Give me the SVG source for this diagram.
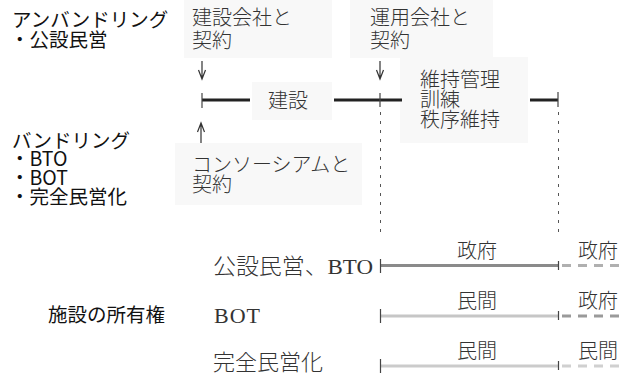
<svg xmlns="http://www.w3.org/2000/svg" width="625" height="374" viewBox="0 0 625 374">
<style>
.head{font-family:"Noto Sans CJK JP","Noto Sans",sans-serif;font-size:19.5px;font-weight:400;fill:#111}
.lbl{font-family:"Noto Sans CJK JP","Noto Sans",sans-serif;font-size:20px;font-weight:300;fill:#333}
.row{font-family:"Liberation Serif","Noto Sans CJK JP",serif;font-size:22px;font-weight:300;fill:#333}
.own{font-family:"Noto Sans CJK JP",serif;font-size:20px;font-weight:300;fill:#333}
.bg{fill:#f8f8f8}
.arr{fill:none;stroke:#333;stroke-width:1.2}
.tick{stroke:#444;stroke-width:1.2}
.dot{stroke:#555;stroke-width:1;stroke-dasharray:3 6}
</style>
<g id="backgrounds">
<rect class="bg" x="184" y="0" width="148" height="58"/>
<rect class="bg" x="350" y="0" width="143" height="58"/>
<rect class="bg" x="252" y="82" width="80" height="38"/>
<rect class="bg" x="400" y="57" width="128" height="86"/>
<rect class="bg" x="175" y="143" width="187" height="62"/>
</g>
<g id="unbundling">
<text class="head" x="12" y="27">アンバンドリング</text>
<text class="head" x="10" y="47">・公設民営</text>
</g>
<g id="bundling">
<text class="head" x="12" y="148">バンドリング</text>
<text class="head" x="10" y="166">・BTO</text>
<text class="head" x="10" y="185">・BOT</text>
<text class="head" x="10" y="204">・完全民営化</text>
</g>
<g id="contract-construction">
<text class="lbl" x="192" y="25">建設会社と</text>
<text class="lbl" x="192" y="48">契約</text>
</g>
<g id="contract-operation">
<text class="lbl" x="370" y="25">運用会社と</text>
<text class="lbl" x="370" y="48">契約</text>
</g>
<g id="construction">
<text class="lbl" x="268" y="108" font-size="21">建設</text>
</g>
<g id="operation">
<text class="lbl" x="420" y="87">維持管理</text>
<text class="lbl" x="420" y="107">訓練</text>
<text class="lbl" x="420" y="127">秩序維持</text>
</g>
<g id="contract-consortium">
<text class="lbl" x="192" y="172">コンソーシアムと</text>
<text class="lbl" x="192" y="192">契約</text>
</g>
<g id="ownership-title">
<text class="head" x="48" y="322" font-size="22">施設の所有権</text>
</g>
<g id="row-labels">
<text class="row" x="213" y="274" textLength="160" lengthAdjust="spacingAndGlyphs">公設民営、BTO</text>
<text class="row" x="214" y="323" letter-spacing="1">BOT</text>
<text class="row" x="213" y="370" textLength="110">完全民営化</text>
</g>
<g id="owner-labels">
<text class="own" x="457" y="258">政府</text>
<text class="own" x="578" y="258">政府</text>
<text class="own" x="457" y="308">民間</text>
<text class="own" x="578" y="308">政府</text>
<text class="own" x="457" y="358">民間</text>
<text class="own" x="578" y="358">民間</text>
</g>
<g id="connectors">
<path class="arr" d="M202 61V79M198.5 70L202 79L205.5 70"/>
<path class="arr" d="M380 61V79M376.5 70L380 79L383.5 70"/>
<path class="arr" d="M201 123V143M197.5 132L201 123L204.5 132"/>
<g stroke="#222" stroke-width="3">
<line x1="202" y1="100" x2="250" y2="100"/>
<line x1="334" y1="100" x2="402" y2="100"/>
<line x1="530" y1="100" x2="558" y2="100"/>
</g>
<line class="tick" x1="202" y1="93" x2="202" y2="108"/>
<line class="tick" x1="380" y1="93" x2="380" y2="107"/>
<line class="tick" x1="558" y1="92" x2="558" y2="107"/>
<line class="dot" x1="380.5" y1="112" x2="380.5" y2="232"/>
<line class="dot" x1="558.5" y1="112" x2="558.5" y2="232"/>
<line x1="380" y1="265.5" x2="558" y2="265.5" stroke="#8a8a8a" stroke-width="3"/>
<line x1="562" y1="265.5" x2="625" y2="265.5" stroke="#b0b0b0" stroke-width="3" stroke-dasharray="9 7"/>
<line x1="380" y1="316" x2="558" y2="316" stroke="#c6c6c6" stroke-width="3"/>
<line x1="562" y1="316" x2="625" y2="316" stroke="#9a9a9a" stroke-width="3" stroke-dasharray="9 7"/>
<line x1="380" y1="366" x2="558" y2="366" stroke="#cbcbcb" stroke-width="3"/>
<line x1="562" y1="366" x2="625" y2="366" stroke="#d0d0d0" stroke-width="3" stroke-dasharray="9 7"/>
<line class="tick" x1="380.5" y1="259" x2="380.5" y2="273"/>
<line class="tick" x1="558.5" y1="261" x2="558.5" y2="270"/>
<line class="tick" x1="380.5" y1="309" x2="380.5" y2="323"/>
<line class="tick" x1="558.5" y1="311" x2="558.5" y2="320"/>
<line class="tick" x1="380.5" y1="359" x2="380.5" y2="373"/>
<line class="tick" x1="558.5" y1="361" x2="558.5" y2="370"/>
</g>
</svg>
